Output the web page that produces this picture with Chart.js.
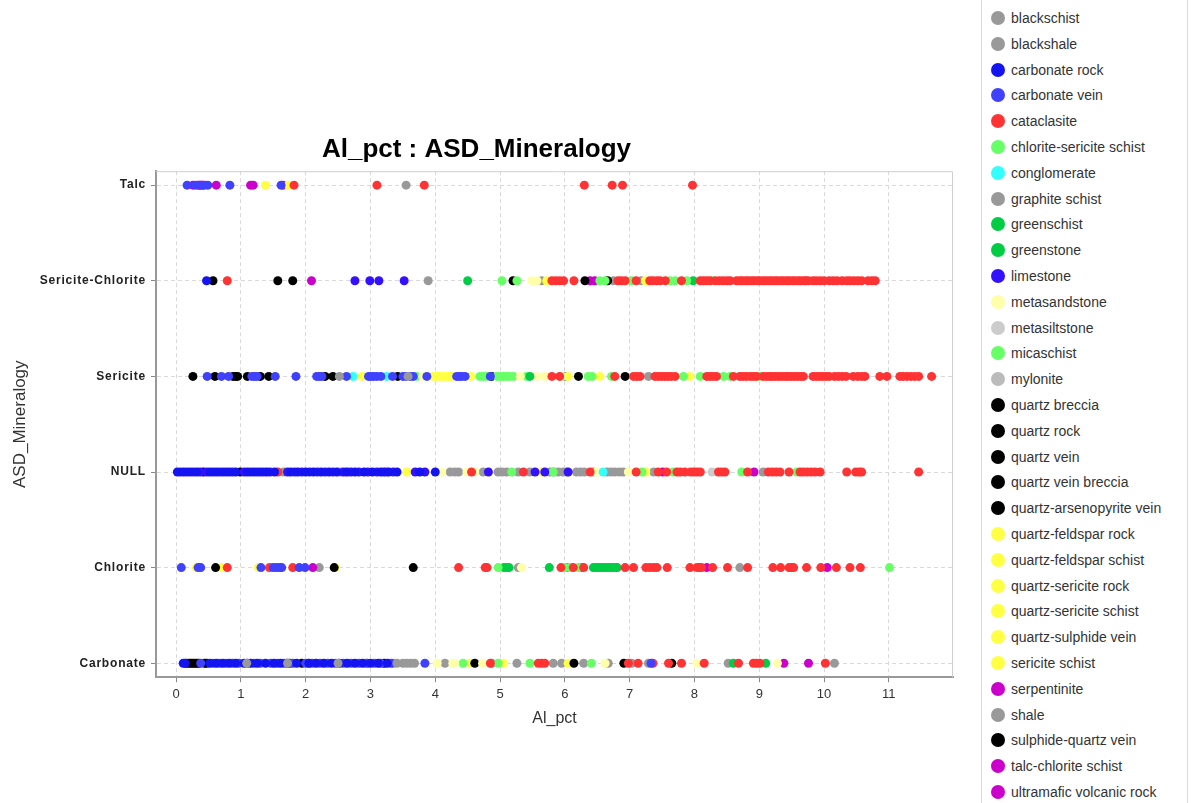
<!DOCTYPE html>
<html>
<head>
<meta charset="utf-8">
<title>Al_pct : ASD_Mineralogy</title>
<script src="https://cdn.jsdelivr.net/npm/chart.js@4.4.1/dist/chart.umd.min.js"></script>
<style>
  body { margin: 0; background: #fff; width: 1192px; height: 803px; overflow: hidden; position: relative; font-family: "Liberation Sans", Arial, sans-serif; }
  #wrap { position: absolute; left: 0; top: 0; width: 960px; height: 803px; }
  #legend { position: absolute; left: 981px; top: 0; width: 205px; height: 803px; border-left: 1px solid #d4dbe2; border-right: 1px solid #d4dbe2; }
  .item { position: absolute; left: 0; height: 20px; line-height: 20px; font-size: 14px; color: #333; white-space: nowrap; }
  .dot { position: absolute; left: 9px; top: 3px; width: 14px; height: 14px; border-radius: 50%; }
  .lbl { position: absolute; left: 29px; top: 0; }
</style>
</head>
<body>
<div id="wrap"><canvas id="chart" width="960" height="803"></canvas></div>
<div id="legend"></div>
<script>
// y categories, bottom to top
const categories = ['Carbonate', 'Chlorite', 'NULL', 'Sericite', 'Sericite-Chlorite', 'Talc'];
const xTicks = [0, 1, 2, 3, 4, 5, 6, 7, 8, 9, 10, 11];

const lithologies = [
    'blackschist', 'blackshale', 'carbonate rock', 'carbonate vein', 'cataclasite',
    'chlorite-sericite schist', 'conglomerate', 'graphite schist', 'greenschist', 'greenstone',
    'limestone', 'metasandstone', 'metasiltstone', 'micaschist', 'mylonite',
    'quartz breccia', 'quartz rock', 'quartz vein', 'quartz vein breccia', 'quartz-arsenopyrite vein',
    'quartz-feldspar rock', 'quartz-feldspar schist', 'quartz-sericite rock', 'quartz-sericite schist', 'quartz-sulphide vein',
    'sericite schist', 'serpentinite', 'shale', 'sulphide-quartz vein', 'talc-chlorite schist',
    'ultramafic volcanic rock'
];
const lithColors = [
    '#999999', '#999999', '#1414f0', '#4040ff', '#ff3333',
    '#66ff66', '#33ffff', '#999999', '#00cc44', '#00cc44',
    '#3311ff', '#ffffaa', '#cccccc', '#66ff66', '#bbbbbb',
    '#000000', '#000000', '#000000', '#000000', '#000000',
    '#ffff44', '#ffff44', '#ffff44', '#ffff44', '#ffff44',
    '#ffff44', '#cc00cc', '#999999', '#000000', '#cc00cc',
    '#cc00cc'
];

// Al_pct values per lithology, one table per mineralogy row
const carbonateRow = {
    'carbonate rock': [0.11, 0.14, 0.52, 0.62, 0.72, 0.82, 0.92, 1.05, 1.15, 1.25, 1.38, 1.51, 1.61, 1.71, 1.86, 2.05, 2.16, 2.28, 2.40, 2.52, 2.64, 2.76, 2.88, 3.00, 3.12, 3.26],
    'carbonate vein': [0.38, 0.57, 0.67, 0.77, 0.87, 0.97, 1.10, 1.20, 1.30, 1.46, 1.56, 1.66, 1.80, 2.00, 2.10, 2.22, 2.34, 2.46, 2.58, 2.70, 2.82, 2.94, 3.06, 3.16, 3.32, 3.84, 7.33],
    'blackschist': [1.09, 1.72, 2.50, 3.41, 3.56, 3.68],
    'cataclasite': [4.85, 5.59, 5.64, 5.69, 6.98, 7.13, 7.36, 7.60, 7.80, 8.15, 8.68, 8.91, 8.96, 9.01, 10.02],
    'greenstone': [8.60, 9.10],
    'metasandstone': [4.03, 4.27, 4.30, 4.73, 6.62, 8.04, 9.28],
    'micaschist': [4.43, 4.97, 5.46, 6.41],
    'quartz vein': [0.16, 0.20, 0.23, 0.26, 0.29, 0.32, 0.35, 0.44, 0.47, 1.75, 1.94, 3.21, 4.61, 6.14, 6.91, 7.65],
    'quartz-sericite schist': [4.54, 5.05, 6.05, 6.08],
    'shale': [2.05, 2.95, 3.36, 3.50, 3.62, 4.15, 4.87, 5.26, 5.82, 5.95, 6.29, 6.67, 7.03, 7.29, 8.52, 10.16],
    'ultramafic volcanic rock': [9.38, 9.76]
};
const chloriteRow = {
    'carbonate vein': [0.08, 0.34, 0.38, 1.31, 1.50, 1.55, 1.60, 1.63, 1.90, 1.99],
    'cataclasite': [0.79, 1.44, 1.80, 4.36, 4.77, 4.80, 5.94, 6.13, 6.29, 6.93, 7.06, 7.25, 7.31, 7.37, 7.42, 7.58, 7.93, 8.04, 8.08, 8.11, 8.28, 8.51, 8.82, 9.21, 9.33, 9.46, 9.50, 9.53, 9.73, 9.95, 10.19, 10.40, 10.56],
    'chlorite-sericite schist': [4.97, 6.00, 6.08, 6.21, 11.01],
    'greenschist': [5.06, 5.10, 5.14, 5.76, 6.03, 6.26, 6.44, 6.48, 6.52, 6.56, 6.60, 6.64, 6.68, 6.72, 6.76, 6.80],
    'metasandstone': [5.33],
    'quartz vein': [0.61, 2.44, 3.66],
    'quartz-feldspar rock': [0.31, 0.70, 1.27, 2.46],
    'serpentinite': [2.11, 8.19, 10.05],
    'shale': [2.21, 5.28, 6.81, 8.70]
};
const nullRow = {
    'carbonate rock': [0.02, 0.12, 0.22, 0.32, 0.52, 0.62, 0.72, 0.82, 0.92, 1.10, 1.20, 1.30, 1.40, 1.52, 1.77, 1.88, 2.00, 2.12, 2.24, 2.36, 2.48, 2.63, 2.76, 2.90, 3.03, 3.16, 3.28, 3.41, 3.76, 4.00],
    'cataclasite': [1.57, 4.56, 5.36, 6.39, 7.10, 7.44, 7.57, 7.73, 7.78, 7.85, 7.94, 7.99, 8.04, 8.09, 8.37, 8.42, 8.47, 8.82, 9.14, 9.20, 9.26, 9.32, 9.46, 9.63, 9.68, 9.74, 9.80, 9.86, 9.94, 10.35, 10.49, 10.54, 10.58, 11.46],
    'conglomerate': [6.59],
    'limestone': [0.07, 0.17, 0.27, 0.37, 0.47, 0.57, 0.67, 0.77, 0.87, 1.05, 1.15, 1.25, 1.35, 1.45, 1.72, 1.83, 1.94, 2.06, 2.18, 2.30, 2.42, 2.58, 2.70, 2.82, 2.96, 3.10, 3.22, 3.35, 3.69, 3.84, 4.82, 5.54, 5.69, 6.05],
    'metasandstone': [4.10, 4.49, 4.61, 6.49, 6.98],
    'metasiltstone': [8.27],
    'micaschist': [5.18, 5.82, 7.19, 7.67, 8.73, 9.58],
    'quartz vein': [0.42, 0.99],
    'quartz-feldspar rock': [3.56, 5.64, 7.25],
    'shale': [1.66, 2.53, 2.66, 3.20, 3.26, 4.23, 4.30, 4.36, 4.74, 4.97, 5.03, 5.10, 5.28, 5.46, 5.77, 5.83, 5.90, 5.97, 6.03, 6.18, 6.24, 6.30, 6.44, 6.65, 6.71, 6.77, 6.84, 6.90, 7.37, 9.06],
    'talc-chlorite schist': [7.51, 8.92]
};
const sericiteRow = {
    'blackshale': [2.52, 3.58],
    'carbonate vein': [0.48, 0.70, 0.81, 1.17, 1.21, 1.25, 1.53, 1.85, 2.17, 2.21, 2.25, 2.63, 2.97, 3.01, 3.05, 3.10, 3.16, 3.34, 3.50, 3.55, 3.61, 3.66, 3.87, 4.33, 4.37, 4.41, 4.46, 4.85],
    'cataclasite': [5.80, 5.92, 6.77, 7.06, 7.11, 7.16, 7.39, 7.44, 7.49, 7.54, 7.59, 7.64, 7.70, 8.19, 8.24, 8.29, 8.34, 8.60, 8.70, 8.75, 8.80, 8.86, 8.91, 8.96, 9.06, 9.11, 9.16, 9.20, 9.25, 9.30, 9.35, 9.40, 9.44, 9.49, 9.54, 9.59, 9.64, 9.68, 9.83, 9.88, 9.93, 9.98, 10.03, 10.08, 10.16, 10.22, 10.28, 10.34, 10.45, 10.52, 10.58, 10.63, 10.86, 10.97, 11.17, 11.22, 11.28, 11.34, 11.40, 11.46, 11.66],
    'conglomerate': [2.73, 3.25],
    'greenschist': [5.46],
    'metasandstone': [3.81, 5.31, 5.57, 5.69, 5.95],
    'micaschist': [3.71, 4.69, 4.74, 4.79, 4.95, 5.00, 5.05, 5.10, 5.15, 5.21, 5.41, 6.36, 6.42, 6.72, 7.83, 8.09, 8.45, 8.55, 9.01],
    'quartz vein': [0.26, 0.60, 0.88, 0.92, 0.95, 1.10, 1.30, 1.43, 2.30, 2.42, 3.42, 4.87, 6.21, 6.93],
    'quartz-sericite schist': [2.87, 3.97, 4.02, 4.07, 4.12, 4.17, 4.21, 4.25, 4.55, 6.05, 6.54, 7.93],
    'shale': [6.00, 7.29]
};
const sericiteChloriteRow = {
    'carbonate rock': [0.47],
    'cataclasite': [0.79, 5.80, 5.86, 5.92, 5.98, 6.14, 6.82, 6.87, 6.93, 7.10, 7.31, 7.36, 7.42, 7.47, 7.55, 7.80, 8.09, 8.14, 8.19, 8.24, 8.32, 8.38, 8.44, 8.50, 8.55, 8.65, 8.70, 8.74, 8.79, 8.83, 8.88, 8.92, 8.97, 9.01, 9.06, 9.10, 9.15, 9.19, 9.24, 9.28, 9.33, 9.37, 9.42, 9.46, 9.51, 9.55, 9.60, 9.64, 9.69, 9.72, 9.76, 9.83, 9.88, 9.94, 10.00, 10.08, 10.14, 10.20, 10.28, 10.35, 10.40, 10.46, 10.52, 10.58, 10.68, 10.74, 10.79],
    'chlorite-sericite schist': [5.03, 5.26, 6.54, 6.62, 7.03, 7.62, 7.70, 7.88, 8.27],
    'greenschist': [4.50],
    'greenstone': [7.98],
    'limestone': [2.76, 2.99, 3.13, 3.52],
    'metasandstone': [5.49, 5.57],
    'quartz vein': [0.57, 1.57, 1.80, 5.20, 6.31, 6.66],
    'quartz-sericite schist': [5.72, 7.24],
    'shale': [3.89, 5.64, 6.75, 7.18],
    'talc-chlorite schist': [2.09, 6.39],
    'ultramafic volcanic rock': [6.46]
};
const talcRow = {
    'carbonate vein': [0.17, 0.30, 0.41, 0.49, 0.83, 1.62],
    'cataclasite': [1.82, 3.10, 3.83, 6.30, 6.73, 6.89, 7.97],
    'sericite schist': [1.38, 1.73],
    'serpentinite': [0.36, 0.40, 1.19, 1.65],
    'shale': [3.55],
    'talc-chlorite schist': [0.26, 0.34, 0.38, 0.44, 0.62, 1.15]
};

const rows = [carbonateRow, chloriteRow, nullRow, sericiteRow, sericiteChloriteRow, talcRow];

const datasets = lithologies.map((name, i) => {
    const pts = [];
    rows.forEach((row, yi) => {
        (row[name] || []).forEach(x => pts.push({ x: x, y: yi }));
    });
    return {
        label: name,
        data: pts,
        backgroundColor: lithColors[i],
        borderWidth: 0,
        pointRadius: 4.5,
        pointHoverRadius: 4.5
    };
});

// legend panel on the right
const legendEl = document.getElementById('legend');
lithologies.forEach((name, i) => {
    const item = document.createElement('div');
    item.className = 'item';
    item.style.top = (8 + i * 25.8) + 'px';
    item.innerHTML = '<span class="dot" style="background:' + lithColors[i] + '"></span><span class="lbl">' + name + '</span>';
    legendEl.appendChild(item);
});

// light frame on top/right, spaced y tick labels
const framePlugin = {
    id: 'frame',
    beforeDatasetsDraw(chart) {
        const { ctx, chartArea: a } = chart;
        ctx.save();
        ctx.strokeStyle = '#cfcfcf';
        ctx.lineWidth = 1;
        ctx.beginPath();
        ctx.moveTo(a.left, a.top + 0.5);
        ctx.lineTo(a.right - 0.5, a.top + 0.5);
        ctx.lineTo(a.right - 0.5, a.bottom);
        ctx.stroke();
        ctx.restore();
    },
    afterDatasetsDraw(chart) {
        chart.ctx.letterSpacing = '0.8px';
    },
    afterDraw(chart) {
        chart.ctx.letterSpacing = '0px';
    }
};

new Chart(document.getElementById('chart').getContext('2d'), {
    type: 'scatter',
    data: { datasets: datasets },
    options: {
        responsive: false,
        animation: false,
        events: [],
        layout: { padding: { left: 0, right: 7, top: 0, bottom: 75 } },
        plugins: {
            legend: { display: false },
            tooltip: { enabled: false },
            title: {
                display: true,
                text: 'Al_pct : ASD_Mineralogy',
                color: '#000',
                font: { family: 'Liberation Sans', size: 26, weight: 'bold' },
                padding: { top: 134, bottom: 6 }
            }
        },
        scales: {
            x: {
                type: 'linear',
                min: -0.31,
                max: 11.99,
                afterBuildTicks: axis => { axis.ticks = xTicks.map(v => ({ value: v })); },
                ticks: { color: '#333', padding: 4, font: { family: 'Liberation Sans', size: 13 } },
                grid: { color: '#d9d9d9', tickColor: '#888', tickLength: 5 },
                border: { color: '#999', width: 2, dash: [4, 3] },
                title: { display: true, text: 'Al_pct', color: '#333', font: { family: 'Liberation Sans', size: 16 }, padding: { top: 3, bottom: 0 } }
            },
            y: {
                type: 'linear',
                min: -0.146,
                max: 5.146,
                afterFit: scale => { scale.width = 156; },
                afterBuildTicks: axis => { axis.ticks = categories.map((c, i) => ({ value: i })); },
                ticks: {
                    z: 1,
                    color: '#222',
                    padding: 5,
                    font: { family: 'Liberation Sans', size: 12, weight: 'bold' },
                    callback: v => categories[v]
                },
                grid: { color: '#d9d9d9', tickColor: '#888', tickLength: 5 },
                border: { color: '#999', width: 2, dash: [4, 3] },
                title: { display: true, text: 'ASD_Mineralogy', color: '#333', font: { family: 'Liberation Sans', size: 17 }, padding: { top: 10, bottom: 0 } }
            }
        }
    },
    plugins: [framePlugin]
});
</script>
</body>
</html>
